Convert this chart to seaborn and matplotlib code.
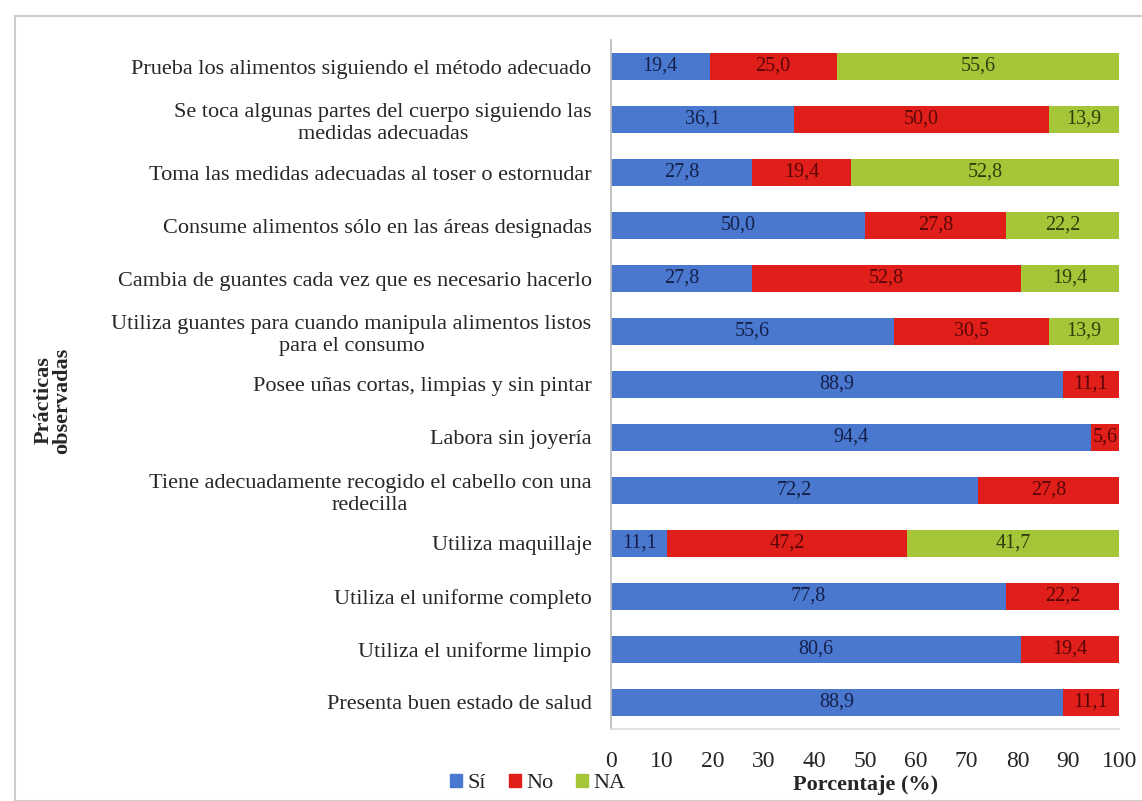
import matplotlib
matplotlib.use("Agg")
import matplotlib.pyplot as plt
from matplotlib.patches import Rectangle
import seaborn as sns
import pandas as pd

practicas = [
    "Prueba los alimentos siguiendo el método adecuado",
    "Se toca algunas partes del cuerpo siguiendo las\nmedidas adecuadas",
    "Toma las medidas adecuadas al toser o estornudar",
    "Consume alimentos sólo en las áreas designadas",
    "Cambia de guantes cada vez que es necesario hacerlo",
    "Utiliza guantes para cuando manipula alimentos listos\npara el consumo",
    "Posee uñas cortas, limpias y sin pintar",
    "Labora sin joyería",
    "Tiene adecuadamente recogido el cabello con una\nredecilla",
    "Utiliza maquillaje",
    "Utiliza el uniforme completo",
    "Utiliza el uniforme limpio",
    "Presenta buen estado de salud",
]
si = [19.4, 36.1, 27.8, 50.0, 27.8, 55.6, 88.9, 94.4, 72.2, 11.1, 77.8, 80.6, 88.9]
no = [25.0, 50.0, 19.4, 27.8, 52.8, 30.5, 11.1, 5.6, 27.8, 47.2, 22.2, 19.4, 11.1]
na = [55.6, 13.9, 52.8, 22.2, 19.4, 13.9, 0.0, 0.0, 0.0, 41.7, 0.0, 0.0, 0.0]

series = ["Sí", "No", "NA"]
colores = ["#4a78cf", "#e01f1b", "#a6c639"]
texto = ["#15204a", "#5a0606", "#323d0c"]

sns.set_theme(style="white")
plt.rcParams["font.family"] = ["Liberation Serif", "DejaVu Serif"]

df = pd.DataFrame({"practica": practicas, "Sí": si, "No": no, "NA": na})
df["c_si"] = df["Sí"]
df["c_no"] = df["Sí"] + df["No"]
df["c_na"] = df["Sí"] + df["No"] + df["NA"]

fig = plt.figure(figsize=(11.42, 8.01), dpi=100)
ax = fig.add_axes([0.535, 0.09, 0.445, 0.86])

# stacked bars drawn as overlaid cumulative totals
for col, color in zip(["c_na", "c_no", "c_si"], colores[::-1]):
    sns.barplot(data=df, x=col, y="practica", color=color, orient="h",
                width=0.52, ax=ax, saturation=1, linewidth=0)

# segment value labels
for i, row in df.iterrows():
    start = 0.0
    for s, tc in zip(series, texto):
        v = row[s]
        if v > 0:
            ax.text(start + v / 2, i, f"{v:.1f}".replace(".", ","),
                    ha="center", va="center", fontsize=14.5, color=tc)
        start += v

ax.set_xlim(0, 100)
ax.set_xticks(range(0, 101, 10))
ax.tick_params(axis="x", labelsize=17, pad=16, length=0)
ax.tick_params(axis="y", labelsize=16, length=0, pad=14)
for lbl in ax.get_yticklabels():
    lbl.set_multialignment("center")
ax.set_ylabel("")
ax.set_xlabel("Porcentaje (%)", fontsize=16, fontweight="bold", labelpad=2)
for side in ["top", "right"]:
    ax.spines[side].set_visible(False)
ax.spines["left"].set_color("#bbbbbb")
ax.spines["bottom"].set_color("#dddddd")

fig.text(0.046, 0.5, "Prácticas\nobservadas", rotation=90, ha="center",
         va="center", fontsize=16, fontweight="bold", linespacing=0.9)

handles = [Rectangle((0, 0), 1, 1, color=c) for c in colores]
fig.legend(handles, series, loc="center", bbox_to_anchor=(0.471, 0.022),
           ncol=3, frameon=False, fontsize=16, handlelength=0.55,
           handleheight=0.55, handletextpad=0.25, columnspacing=1.0,
           borderaxespad=0, borderpad=0)

fig.patches.append(Rectangle((0.013, 0.0), 0.99, 0.98, transform=fig.transFigure,
                             fill=False, edgecolor="#cccccc", linewidth=1.5))

fig.savefig("out.png", dpi=100)
